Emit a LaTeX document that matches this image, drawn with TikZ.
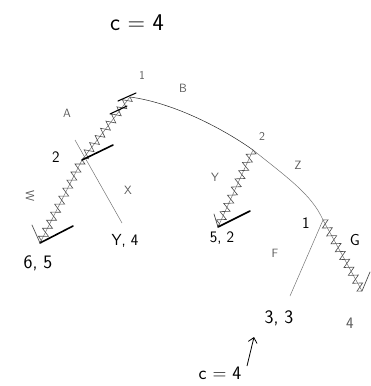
\documentclass[tikz,border=0pt]{standalone}
\usetikzlibrary{decorations.pathmorphing,arrows.meta}
\begin{document}
\begin{tikzpicture}[x=1pt,y=-1pt,
  big/.style={font=\sffamily\fontsize{24}{24}\selectfont, inner sep=0pt},
  mid/.style={font=\sffamily\fontsize{19}{19}\selectfont, inner sep=0pt},
  lbl/.style={font=\sffamily\fontsize{16}{16}\selectfont, inner sep=0pt},
  small/.style={font=\sffamily\fontsize{12}{12}\selectfont, inner sep=0pt, text=black!65},
  edge/.style={draw=black!55, line width=0.5pt},
  zz/.style={draw=black!70, line width=0.6pt, decorate, decoration={zigzag, amplitude=4.5pt, segment length=9pt}},
  bar/.style={line width=1.6pt, line cap=round},
  hook/.style={draw=black!70, line width=0.7pt, line cap=round}]
\useasboundingbox (0,0) rectangle (371,386);
% tree points
\coordinate (r1) at (130,97);
\coordinate (l2) at (82,160);
\coordinate (m2) at (253,150);
\coordinate (n1) at (323,220);
\coordinate (a65) at (40,243);
\coordinate (xs) at (75,140);
\coordinate (ay4) at (122,223);
\coordinate (a52) at (218,227);
\coordinate (a33) at (290,296);
\coordinate (aG) at (362,291);
\coordinate (b1) at (113,145);
\coordinate (b2) at (73,226);
\coordinate (b3) at (250,211);
\coordinate (h1) at (32,225);
\coordinate (h3) at (214,214);
\coordinate (h4) at (370,272);
\coordinate (arrT) at (247,366);
\coordinate (arrH) at (254,337);
% plain edges
\draw[edge, draw=black!85] (r1) .. controls (175,103) and (225,130) .. (m2);
\draw[edge] (m2) .. controls (288,178) and (312,195) .. (n1);
\draw[edge] (n1) -- (a33);
\draw[edge] (xs) -- (ay4);
% zigzag (struck) edges
\draw[edge] (r1) -- (l2);
\draw[zz] (r1) -- (l2);
\draw[edge] (l2) -- (a65);
\draw[zz] (l2) -- (a65);
\draw[edge] (m2) -- (a52);
\draw[zz] (m2) -- (a52);
\draw[edge] (n1) -- (aG);
\draw[zz] (n1) -- (aG);
% thick bars and hooks
\draw[bar] (l2) -- (b1);
\draw[bar] (a65) -- (b2);
\draw[bar] (a52) -- (b3);
\draw[bar, line width=1.1pt] (118,101) -- (136,93);
\draw[bar, line width=1.1pt] (110,114) -- (127,106);
\draw[hook] (a65) -- (h1);
\draw[hook] (a52) -- (h3);
\draw[hook] (aG) -- (h4);
% labels
\node[big] (ctop) at (137,23) {c = 4};
\node[small] (p1) at (142,75) {1};
\node[small] (pB) at (183,88) {B};
\node[small] (pA) at (67,113) {A};
\node[lbl] (p2l) at (56,157) {2};
\node[small, rotate=-90] (pW) at (30,196) {W};
\node[small] (pX) at (128,190) {X};
\node[lbl] (tY4) at (125,241) {Y, 4};
\node[mid] (t65) at (38,263) {6, 5};
\node[small] (p2m) at (262,136) {2};
\node[small] (pZ) at (298,165) {Z};
\node[small] (pY) at (215,177) {Y};
\node[lbl] (t52) at (222,238) {5, 2};
\node[lbl] (p1n) at (306,223) {1};
\node[lbl] (pG) at (355,240) {G};
\node[small] (pF) at (275,253) {F};
\node[mid] (t33) at (279,318) {3, 3};
\node[lbl, text=black!65] (t4) at (350,323) {4};
\node[mid] (cbot) at (220,373) {c = 4};
\draw[-{Straight Barb[length=5pt,width=9pt]}, line width=0.8pt] (arrT) -- (arrH);
\end{tikzpicture}
\end{document}
